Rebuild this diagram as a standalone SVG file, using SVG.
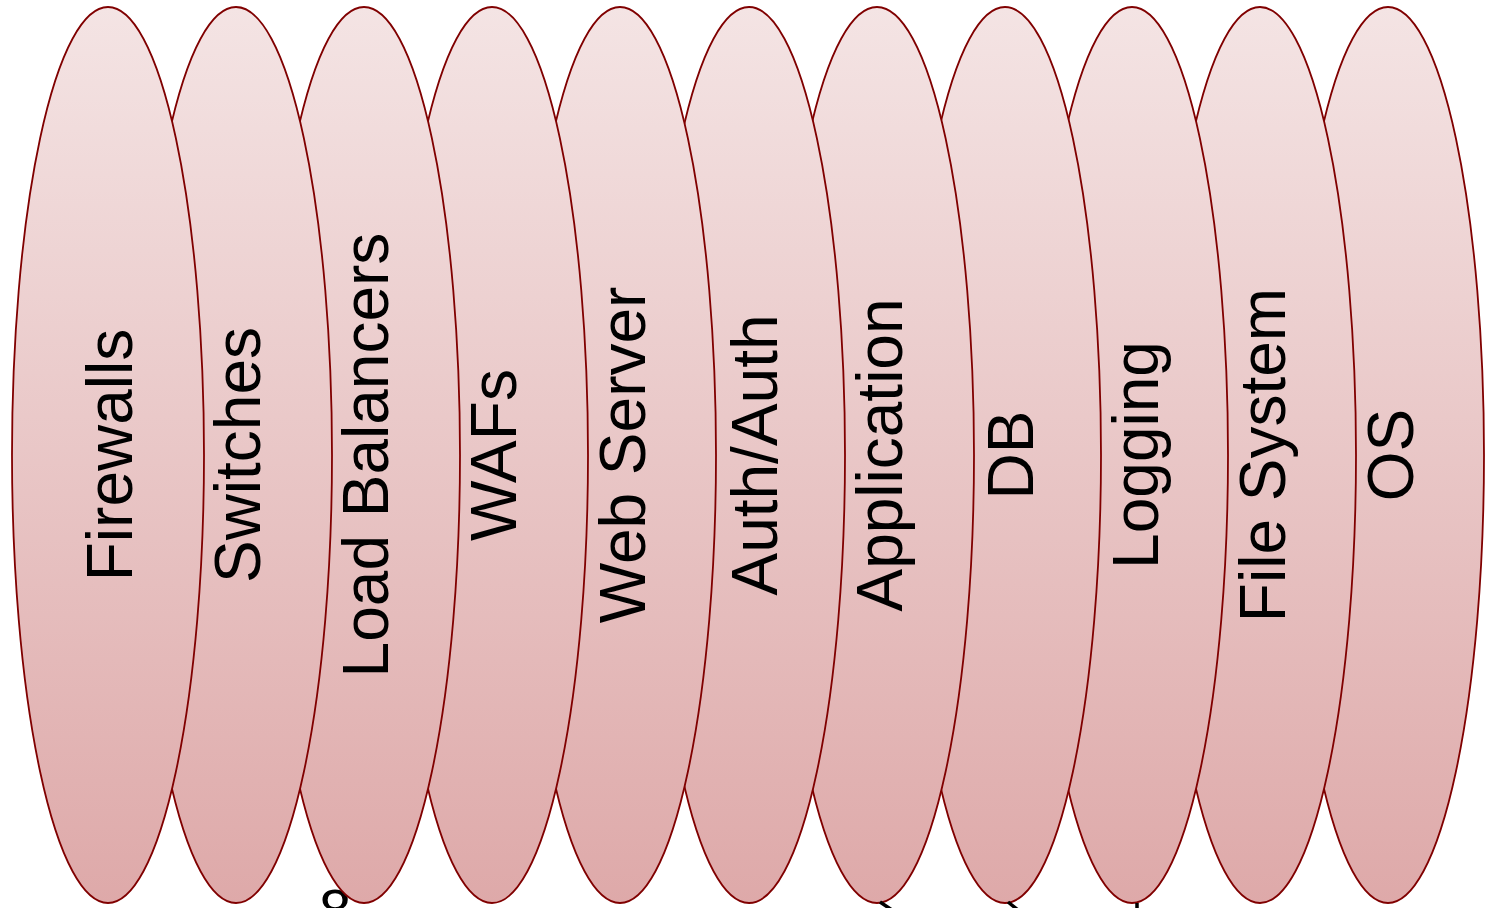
<svg xmlns="http://www.w3.org/2000/svg" width="1486" height="908" viewBox="0 0 1486 908">
  <defs>
    <linearGradient id="fill" x1="0" y1="0" x2="0" y2="1">
      <stop offset="0" stop-color="#f4e4e4"/>
      <stop offset="1" stop-color="#dea9a9"/>
    </linearGradient>
  </defs>
  <style>
    .layer ellipse { fill: url(#fill); stroke: #800000; stroke-width: 1.8; }
    .layer text { font-family: "Liberation Sans", Arial, sans-serif; font-size: 64px; fill: #000; text-anchor: middle; }
    .stray { font-family: "Liberation Sans", Arial, sans-serif; font-size: 58px; fill: #000; }
  </style>
  <rect width="1486" height="908" fill="#ffffff"/>

  <!-- line of text running below the page edge -->
  <g id="below-edge">
    <text class="stray" x="319" y="930">8</text>
  </g>

  <!-- layers, drawn from the innermost (OS) outward so the outer ones overlap -->
  <g id="os" class="layer"><ellipse cx="1388" cy="455" rx="96" ry="448"/><text transform="translate(1413,455) rotate(-90)">OS</text></g>
  <g id="file-system" class="layer"><ellipse cx="1260" cy="455" rx="96" ry="448"/><text transform="translate(1285,455) rotate(-90)">File System</text></g>
  <g id="logging" class="layer"><ellipse cx="1132" cy="455" rx="96" ry="448"/><text transform="translate(1158,455) rotate(-90)">Logging</text></g>
  <g id="db" class="layer"><ellipse cx="1005" cy="455" rx="96" ry="448"/><text transform="translate(1033,455) rotate(-90)">DB</text></g>
  <g id="application" class="layer"><ellipse cx="877" cy="455" rx="97" ry="448"/><text transform="translate(902,455) rotate(-90)">Application</text></g>
  <g id="auth" class="layer"><ellipse cx="749" cy="455" rx="96" ry="448"/><text transform="translate(777,455) rotate(-90)">Auth/Auth</text></g>
  <g id="web-server" class="layer"><ellipse cx="620" cy="455" rx="96" ry="448"/><text transform="translate(645,455) rotate(-90)">Web Server</text></g>
  <g id="wafs" class="layer"><ellipse cx="492" cy="455" rx="96" ry="448"/><text transform="translate(516,455) rotate(-90)">WAFs</text></g>
  <g id="load-balancers" class="layer"><ellipse cx="364" cy="455" rx="96" ry="448"/><text transform="translate(388,455) rotate(-90)">Load Balancers</text></g>
  <g id="switches" class="layer"><ellipse cx="236" cy="455" rx="96" ry="448"/><text transform="translate(260,455) rotate(-90)">Switches</text></g>
  <g id="firewalls" class="layer"><ellipse cx="108" cy="455" rx="96" ry="448"/><text transform="translate(132,455) rotate(-90)">Firewalls</text></g>

  <!-- strokes of glyphs cut by the bottom edge -->
  <g id="edge-marks" stroke="#000" stroke-width="3.5" fill="none">
    <line x1="880" y1="902" x2="892" y2="910"/>
    <line x1="1008" y1="902" x2="1018" y2="910"/>
    <line x1="1137" y1="903" x2="1137" y2="910"/>
  </g>
</svg>
